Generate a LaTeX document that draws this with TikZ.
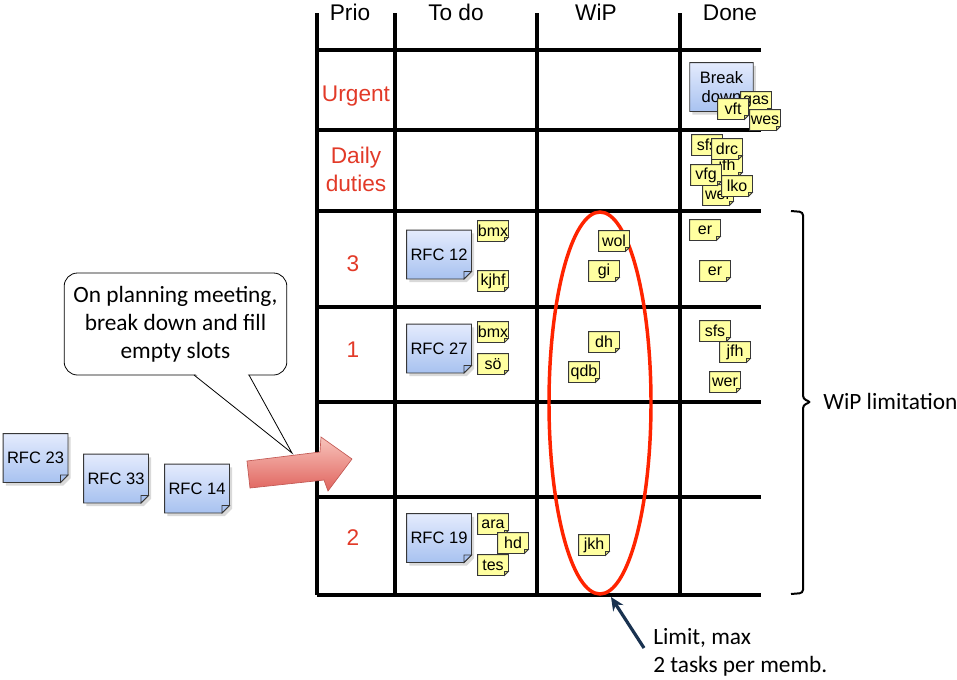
\documentclass[tikz,border=0pt]{standalone}
\usepackage{fontspec}
\setmainfont{Liberation Sans}
\newfontfamily\calibri{Carlito}
\usetikzlibrary{shadows,arrows.meta}

\definecolor{prioRed}{RGB}{226,58,40}
\definecolor{limitRed}{RGB}{255,36,0}
\definecolor{noteYellow}{RGB}{255,255,160}
\definecolor{noteFoldY}{RGB}{230,230,120}
\definecolor{noteEdge}{RGB}{55,55,55}
\definecolor{rfcTop}{RGB}{228,235,253}
\definecolor{rfcBottom}{RGB}{168,194,240}
\definecolor{navy}{RGB}{25,50,80}
\definecolor{arrowTop}{RGB}{248,196,188}
\definecolor{arrowBottom}{RGB}{224,100,94}
\definecolor{arrowEdge}{RGB}{195,90,85}

% sticky note shape: rectangle with a dog-eared lower right corner
\makeatletter
\newdimen\snxa \newdimen\snya \newdimen\snxb \newdimen\snyb
\newdimen\snxc \newdimen\snyc \newdimen\snf
\pgfkeys{/tikz/note fold/.initial=4pt, /tikz/note fold color/.initial=white}
\def\sn@corners{%
  \pgfmathsetlength\snf{\pgfkeysvalueof{/tikz/note fold}}%
  \southwest \snxa=\pgf@x \snya=\pgf@y
  \northeast \snxb=\pgf@x \snyb=\pgf@y
  \snxc=\snxb \advance\snxc by -\snf
  \snyc=\snya \advance\snyc by \snf
}
\pgfdeclareshape{stickynote}{%
  \inheritsavedanchors[from=rectangle]%
  \inheritanchorborder[from=rectangle]%
  \inheritanchor[from=rectangle]{center}%
  \inheritanchor[from=rectangle]{north}%
  \inheritanchor[from=rectangle]{south}%
  \inheritanchor[from=rectangle]{east}%
  \inheritanchor[from=rectangle]{west}%
  \inheritanchor[from=rectangle]{north east}%
  \inheritanchor[from=rectangle]{north west}%
  \inheritanchor[from=rectangle]{south east}%
  \inheritanchor[from=rectangle]{south west}%
  \inheritanchor[from=rectangle]{text}%
  \inheritanchor[from=rectangle]{base}%
  \inheritanchor[from=rectangle]{mid}%
  \backgroundpath{%
    \sn@corners
    \pgfpathmoveto{\pgfqpoint{\snxa}{\snyb}}%
    \pgfpathlineto{\pgfqpoint{\snxb}{\snyb}}%
    \pgfpathlineto{\pgfqpoint{\snxb}{\snyc}}%
    \pgfpathlineto{\pgfqpoint{\snxc}{\snya}}%
    \pgfpathlineto{\pgfqpoint{\snxa}{\snya}}%
    \pgfpathclose
  }%
  \beforeforegroundpath{%
    \pgfscope
    \pgfsetfillcolor{\pgfkeysvalueof{/tikz/note fold color}}%
    \sn@corners
    \pgfpathmoveto{\pgfqpoint{\snxb}{\snyc}}%
    \pgfpathlineto{\pgfqpoint{\snxc}{\snyc}}%
    \pgfpathlineto{\pgfqpoint{\snxc}{\snya}}%
    \pgfpathclose
    \pgfusepath{fill,stroke}%
    \endpgfscope
  }%
}
\makeatother

\tikzset{
  gridline/.style={line width=2.3pt},
  header/.style={font=\fontsize{17}{20}\selectfont, anchor=base},
  priolabel/.style={font=\fontsize{17}{20}\selectfont, text=prioRed, anchor=base},
  rfc/.style={shape=stickynote, note fold=5.5pt, note fold color=rfcBottom,
    draw=noteEdge, line width=0.6pt, top color=rfcTop, bottom color=rfcBottom,
    minimum width=48pt, minimum height=36pt, inner sep=1pt,
    font=\fontsize{12.4}{14.5}\selectfont,
    drop shadow={shadow xshift=2pt, shadow yshift=-2.5pt, opacity=0.3}},
  task/.style={shape=stickynote, note fold=3pt, note fold color=noteFoldY,
    draw=noteEdge, line width=0.6pt, fill=noteYellow,
    minimum width=22.5pt, minimum height=15pt, inner sep=0pt,
    font=\fontsize{12}{14}\selectfont},
  callout/.style={font=\calibri\fontsize{17.5}{21}\selectfont},
  remark/.style={callout, inner sep=0pt, anchor=base west},
}

\begin{document}
\begin{tikzpicture}[x=0.75pt, y=-0.75pt]
\useasboundingbox (0,0) rectangle (957,679);

% ---- board grid ----
\foreach \gx in {317,395,537,680}
  \draw[gridline] (\gx,13) -- (\gx,595);
\foreach \gy in {50,130,211,307,402,497,595}
  \draw[gridline] (317,\gy) -- (761,\gy);

% ---- column headers ----
\node[header] (hPrio) at (350,20) {Prio};
\node[header] (hTodo) at (456,20) {To do};
\node[header] (hWip)  at (596,20) {WiP};
\node[header] (hDone) at (730,20) {Done};

% ---- priority labels ----
\node[priolabel] (lUrgent) at (356,101) {Urgent};
\node[priolabel] (lDaily)  at (356,163) {Daily};
\node[priolabel] (lDuties) at (356,191) {duties};
\node[priolabel] (lThree)  at (353,271) {3};
\node[priolabel] (lOne)    at (353,357) {1};
\node[priolabel] (lTwo)    at (353,545) {2};

% ---- WiP limit ellipse ----
\draw[limitRed, line width=2.6pt] (600,403) ellipse [x radius=51, y radius=191];
\coordinate (ellbottom) at (611,597);

% ---- Done: urgent row ----
\node[rfc, minimum width=47pt, align=center] (rfcBreak) at (721.5,87) {Break\\down};
\node[task] (tGas) at (756,102) {gas};
\node[task] (tVft) at (733,109) {vft};
\node[task] (tWes) at (765,120) {wes};

% ---- Done: daily duties row ----
\node[task] (tSfsA) at (707,145) {sfs};
\node[task] (tJfhA) at (727,166) {jfh};
\node[task] (tDrc)  at (727,149) {drc};
\node[task] (tWerA) at (718,195) {wer};
\node[task] (tVfg)  at (706,175) {vfg};
\node[task] (tLko)  at (737,186) {lko};

% ---- priority 3 row ----
\node[rfc] (rfc12) at (439,254.5) {RFC 12};
\node[task] (tBmxA) at (493,231) {bmx};
\node[task] (tKjhf) at (493,281) {kjhf};
\node[task] (tWol)  at (614,241) {wol};
\node[task] (tGi)   at (604,271) {gi};
\node[task] (tErA)  at (705,230) {er};
\node[task] (tErB)  at (715,271) {er};

% ---- priority 1 row ----
\node[rfc] (rfc27) at (439,348.5) {RFC 27};
\node[task] (tBmxB) at (493,332) {bmx};
\node[task] (tSo)   at (493,364) {sö};
\node[task] (tDh)   at (604,342) {dh};
\node[task] (tQdb)  at (584,372) {qdb};
\node[task] (tSfsB) at (715,331) {sfs};
\node[task] (tJfhB) at (735,352) {jfh};
\node[task] (tWerB) at (725,382) {wer};

% ---- priority 2 row ----
\node[rfc] (rfc19) at (439,538) {RFC 19};
\node[task] (tAra) at (493,524) {ara};
\node[task] (tHd)  at (513,543) {hd};
\node[task] (tTes) at (493,565) {tes};
\node[task] (tJkh) at (594,545) {jkh};

% ---- backlog ----
\node[rfc] (rfc23) at (35.5,458)  {RFC 23};
\node[rfc] (rfc33) at (116,478.5) {RFC 33};
\node[rfc] (rfc14) at (197,488.5) {RFC 14};

% ---- big arrow into the board ----
\draw[arrowEdge, line width=0.5pt, top color=arrowTop, bottom color=arrowBottom]
  (247,461) -- (320,452) -- (321,437) -- (352,459) -- (328,491) -- (324,480) -- (250,488) -- cycle;

% ---- planning callout ----
\node[callout, draw, line width=0.6pt, fill=white, rounded corners=10pt,
      minimum width=167pt, minimum height=76.5pt, align=center] (bubble) at (175.5,324)
  {On planning meeting,\\break down and fill\\empty slots};
\coordinate (bubbletip) at (292,453);
\fill[white] (195.5,374) -- (bubbletip) -- (247.5,374) -- cycle;
\draw[line width=0.6pt] (194,375) -- (bubbletip) -- (249,375);

% ---- WiP limitation brace ----
\draw[line width=1.5pt, rounded corners=2.5pt]
  (791,211) -- (803,212) -- (803,399) -- (811,402) -- (803,405) -- (803,593) -- (791,594);
\node[remark] (wipLimit) at (823,409) {WiP limitation};

% ---- limit note ----
\node[remark] (limit)  at (653,644) {Limit, max};
\node[remark] (limitB) at (653,672) {2 tasks per memb.};
\coordinate (limittail) at (644,648);
\draw[navy, line width=2.4pt, -{Stealth[length=10pt, width=9pt]}] (limittail) -- (ellbottom);

\end{tikzpicture}
\end{document}
